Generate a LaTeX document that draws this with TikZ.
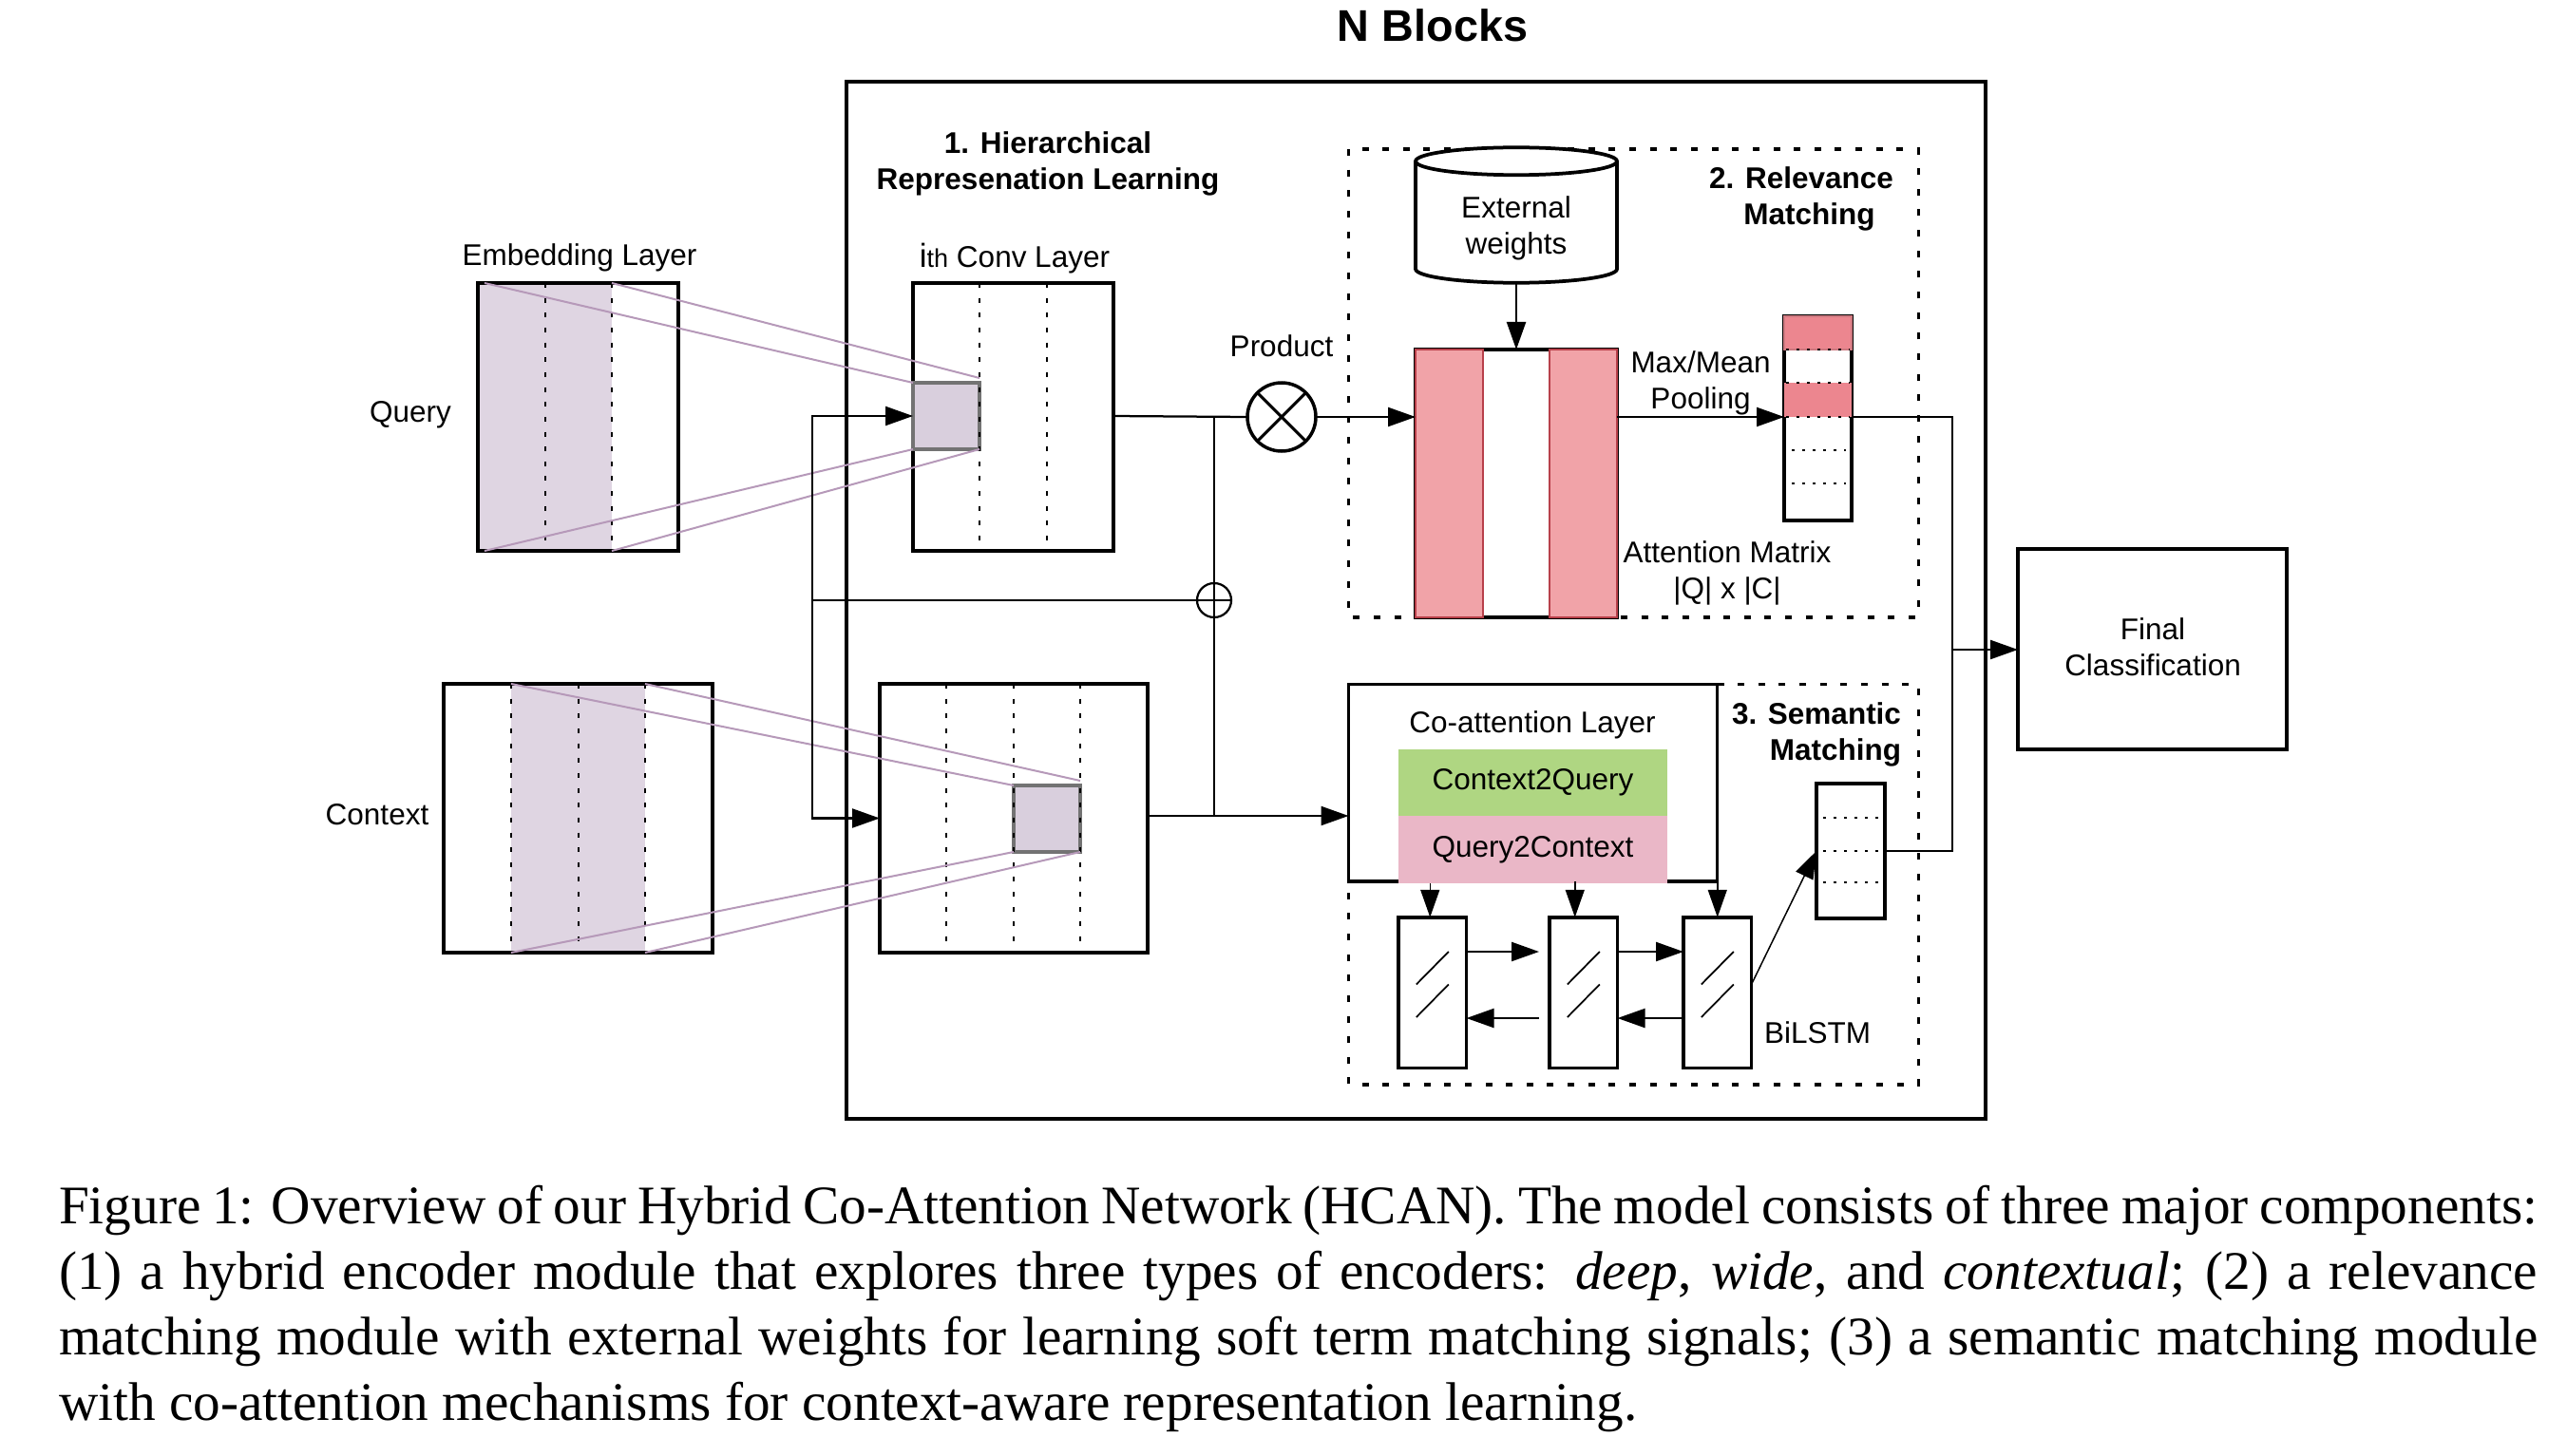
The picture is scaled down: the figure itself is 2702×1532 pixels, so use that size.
\documentclass[tikz,border=0pt]{standalone}
\usepackage{fontspec}
\usepackage{xcolor}
\setmainfont{Liberation Sans}
\newfontfamily\capfont{Liberation Serif}
\usetikzlibrary{arrows.meta}
\definecolor{shadepurple}{HTML}{DFD5E2}
\definecolor{cellpurple}{HTML}{D9CFDD}
\definecolor{linepurple}{HTML}{B699B9}
\definecolor{matpink}{HTML}{F1A3A8}
\definecolor{matred}{HTML}{B8404A}
\definecolor{rowpink}{HTML}{EC868F}
\definecolor{c2qgreen}{HTML}{AFD682}
\definecolor{q2cpink}{HTML}{EAB7C7}

\begin{document}
\begin{tikzpicture}[
  x=0.2pt, y=-0.2pt,
  every node/.style={inner sep=0pt, outer sep=0pt, align=center, font=\fontsize{6.3}{7.6}\selectfont},
  box/.style={draw, line width=0.7pt},
  heading/.style={font=\fontsize{6.3}{7.6}\selectfont\bfseries},
  dashline/.style={line width=0.5pt, dash pattern=on 1pt off 2.13pt},
  dashbox/.style={line width=0.75pt, dash pattern=on 1.4pt off 2.93pt},
  dotline/.style={line width=0.4pt, dash pattern=on 0.5pt off 1.7pt},
  feed/.style={line width=0.4pt, linepurple},
  arr/.style={line width=0.45pt, -{Triangle[length=5.8pt,width=4pt]}},
  wire/.style={line width=0.45pt},
  mat/.style={draw=matred, line width=0.4pt, fill=matpink},
  cellbox/.style={draw=black!55, line width=0.7pt, fill=cellpurple, minimum width=14pt, minimum height=14pt}
]
\useasboundingbox (0,0) rectangle (2702,1532);

% outer block
\node[box, minimum width=239.8pt, minimum height=218.3pt] (blocks) at (1490.5,632) {};
\node[font=\fontsize{9.35}{11}\selectfont\bfseries] (blockstitle) at (1508,27) {N Blocks};
\node[heading] (hier) at (1103,172) {1. Hierarchical\\Represenation Learning};

% query side
\node[fill=shadepurple, minimum width=28.2pt, minimum height=56.4pt] (shq) at (573.5,439) {};
\node[box, minimum width=42.2pt, minimum height=56.4pt] (embq) at (608.5,439) {};
\node[box, minimum width=42.2pt, minimum height=56.4pt] (convq) at (1066.5,439) {};
\node[cellbox] (cellq) at (996,438) {};
\foreach \x in {574,644,1031,1102}
  \draw[dashline] (\x,298) -- (\x,580);
\draw[feed] (shq.north west) ++(7,0) -- (cellq.north west);
\draw[feed] (shq.north east) -- ([yshift=1pt]cellq.north east);
\draw[feed] (shq.south west) ++(7,0) -- (cellq.south west);
\draw[feed] (shq.south east) -- (cellq.south east);
\node (embqlab) at (610,271) {Embedding Layer};
\node (convqlab) at (1068,272) {{\fontsize{7}{7}\selectfont i}{\fontsize{5.4}{7}\selectfont th} Conv Layer};
\node (querylab) at (432,437) {Query};

% context side
\node[fill=shadepurple, minimum width=28.2pt, minimum height=56.6pt] (shc) at (608.5,861.5) {};
\node[box, minimum width=56.6pt, minimum height=56.6pt] (embc) at (608.5,861.5) {};
\node[box, minimum width=56.4pt, minimum height=56.6pt] (convc) at (1067,861.5) {};
\node[cellbox] (cellc) at (1102,862) {};
\foreach \x in {538,609,679,996,1067,1137}
  \draw[dashline] (\x,720) -- (\x,1003);
\draw[feed] (shc.north west) -- (cellc.north west);
\draw[feed] (shc.north east) -- ([yshift=1pt]cellc.north east);
\draw[feed] (shc.south west) -- (cellc.south west);
\draw[feed] (shc.south east) -- (cellc.south east);
\node (contextlab) at (397,858) {Context};

% relevance matching
\draw[dashbox] (1419.5,157) rectangle (2019.5,650);
\node[heading] (relev) at (1896,209) {2. Relevance\\\hspace*{3.4pt}Matching};
\node[minimum width=42.4pt, minimum height=28.5pt] (extw) at (1596,226.5) {};
\draw[line width=0.75pt, fill=white] ([yshift=-2.9pt]extw.north west)
  arc[start angle=180, end angle=360, x radius=21.2pt, y radius=2.9pt]
  arc[start angle=0, end angle=180, x radius=21.2pt, y radius=2.9pt]
  -- ([yshift=2.9pt]extw.south west)
  arc[start angle=180, end angle=360, x radius=21.2pt, y radius=2.9pt]
  -- ([yshift=-2.9pt]extw.north east);
\node (extwlab) at (1596,240) {External\\weights};
\node[box, minimum width=42.4pt, minimum height=56.4pt] (attn) at (1596,509) {};
\node[mat, minimum width=14.2pt, minimum height=56.4pt] (attnl) at (1525.5,509) {};
\node[mat, minimum width=14.2pt, minimum height=56.4pt] (attnr) at (1666.5,509) {};
\node[box, minimum width=14.2pt, minimum height=43pt] (pool) at (1913.5,440.5) {};
\node[mat, draw=matred!70, fill=rowpink, minimum width=14.2pt, minimum height=7pt] (row1) at (1913.5,350.5) {};
\node[fill=rowpink, minimum width=14.2pt, minimum height=7.2pt] (row3) at (1913.5,421) {};
\foreach \y in {368,403,439}
  \draw[dotline] (1880,\y) -- (1947,\y);
\foreach \y in {474,509}
  \draw[dotline] (1886,\y) -- (1943,\y);
\node[circle, draw, line width=0.7pt, fill=white, minimum size=14.4pt] (times) at (1349,439) {};
\draw[line width=0.6pt] (times.north west) -- (times.south east) (times.north east) -- (times.south west);
\node (prodlab) at (1349,364) {Product};
\node (poollab) at (1790,403) {Max/Mean\\Pooling};
\node (attnlab) at (1818,603) {Attention Matrix\\|Q| x |C|};

% semantic matching
\draw[dashbox] (1807.5,720.5) -- (2019.5,720.5) -- (2019.5,1142) -- (1419.5,1142) -- (1419.5,928);
\node[box, minimum width=77.6pt, minimum height=41.5pt] (coatt) at (1613.5,824) {};
\node (coattlab) at (1613,763) {Co-attention Layer};
\node[fill=c2qgreen, minimum width=56.6pt, minimum height=14pt] (c2q) at (1613.5,824) {Context2Query};
\node[fill=q2cpink, minimum width=56.6pt, minimum height=14.2pt] (q2c) at (1613.5,894.5) {Query2Context};
\node[heading, anchor=east, align=right] (seman) at (2001,773) {3. Semantic\\Matching};
\foreach \n/\x in {lstm1/1507.75,lstm2/1666.75,lstm3/1807.75}{
  \node[box, minimum width=14.3pt, minimum height=31.7pt] (\n) at (\x,1045) {};
  \draw[line width=0.35pt] ([shift={(3.4pt,8.6pt)}]\n.center) -- ++(-6.8pt,-6.9pt);
  \draw[line width=0.35pt] ([shift={(3.4pt,1.7pt)}]\n.center) -- ++(-6.8pt,-6.9pt);
}
\node[box, minimum width=14.4pt, minimum height=28.4pt] (semv) at (1948,896) {};
\foreach \y in {861,896,929}
  \draw[dotline] (1919,\y) -- (1977,\y);
\node (bilstmlab) at (1913,1087) {BiLSTM};

% final
\node[box, minimum width=56.6pt, minimum height=42.2pt] (final) at (2265.5,683.5) {};
\node (finallab) at (2266,681) {Final\\Classification};

% connectors
\coordinate (jq) at (1278,438);
\coordinate (jc) at (1278,859);
\coordinate (bus) at (855,632);
\coordinate (busr) at (2055,684);
\node[circle, draw, line width=0.45pt, fill=white, minimum size=7.2pt] (plus) at (1278,632) {};
\draw[wire] (plus.north) -- (plus.south) (plus.west) -- (plus.east);
\draw[wire] (convq.east |- jq) -- (times.west);
\draw[arr] (times.east) -- (times.east -| attn.west);
\draw[wire] (jq) -- (plus.north);
\draw[wire] (plus.south) -- (jc);
\draw[arr] (jc -| convc.east) -- (jc -| coatt.west);
\draw[wire] (plus.west) -- (bus);
\draw[arr] (bus) |- (cellq.west);
\draw[arr] (bus) |- (convc.west);
\draw[arr] (extw.south) -- (attn.north);
\draw[arr] (attn.east |- row3.south west) -- (row3.south west);
\draw[wire, line width=0.3pt] (row3.south east) -| (busr);
\draw[wire, line width=0.3pt] (semv.east) -| (busr);
\draw[arr] (busr) -- (busr -| final.west);
\draw[arr, line width=0.3pt] ([xshift=-0.5pt]lstm1.north |- q2c.south) -- ([xshift=-0.5pt]lstm1.north);
\draw[arr, line width=0.3pt] ([xshift=-1.8pt]lstm2.north |- coatt.south) -- ([xshift=-1.8pt]lstm2.north);
\draw[arr, line width=0.3pt] (lstm3.north |- coatt.south) -- (lstm3.north);
\draw[arr, shorten >=2.2pt] ([yshift=8.6pt]lstm1.east) -- ([yshift=8.6pt]lstm2.west);
\draw[arr] ([yshift=8.6pt]lstm2.east) -- ([yshift=8.6pt]lstm3.west);
\draw[arr, shorten <=2.2pt] ([yshift=-5.4pt]lstm2.west) -- ([yshift=-5.4pt]lstm1.east);
\draw[arr] ([yshift=-5.4pt]lstm3.west) -- ([yshift=-5.4pt]lstm2.east);
\draw[arr, line width=0.3pt] ([yshift=1.7pt]lstm3.east) -- (semv.west);

% caption
\node[anchor=north west, text width=521.8pt, align=justify, font=\capfont\fontsize{11.45}{13.8}\selectfont] (caption) at (62,1248)
  {Figure 1: Overview of our Hybrid Co-Attention Network (HCAN). The model consists of three major components: (1) a hybrid encoder module that explores three types of encoders: \textit{deep}, \textit{wide}, and \textit{contextual}; (2) a relevance matching module with external weights for learning soft term matching signals; (3) a semantic matching module with co-attention mechanisms for context-aware representation learning.};
\end{tikzpicture}
\end{document}
